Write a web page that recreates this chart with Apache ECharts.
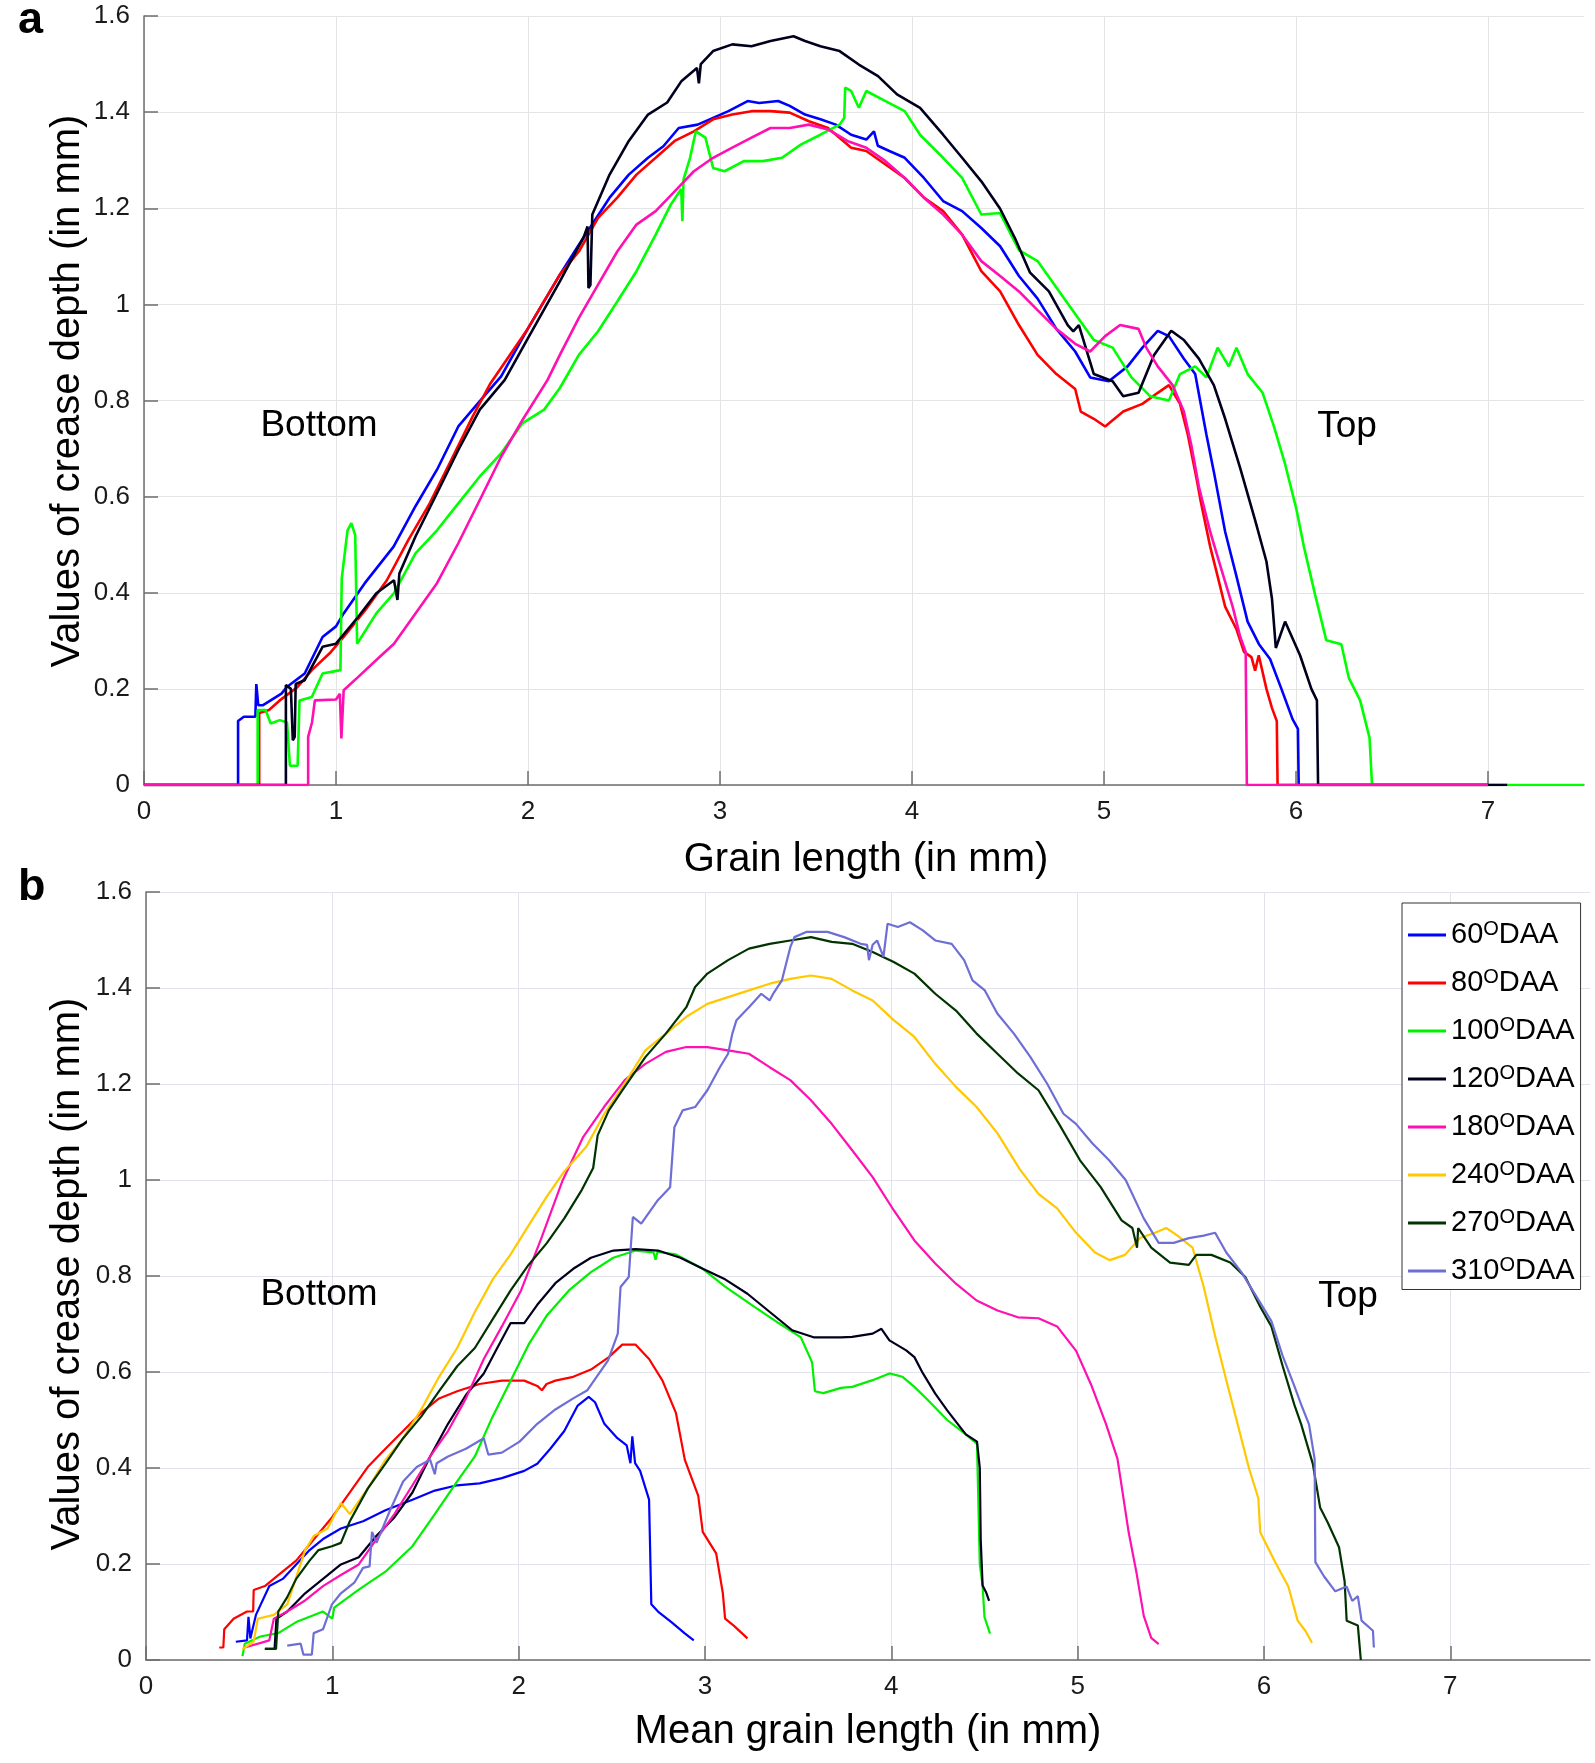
<!DOCTYPE html>
<html><head><meta charset="utf-8">
<script src="https://cdn.jsdelivr.net/npm/echarts@6.0.0/dist/echarts.min.js"></script>
<style>html,body{margin:0;padding:0;background:#fff}#c{width:1595px;height:1763px}</style>
</head><body><div id="c"></div>
<script>
// ---------- tick values ----------
const xTicks = [0, 1, 2, 3, 4, 5, 6, 7];
const yTicksMax = 1.6;

// ---------- panel a : five grains (x = grain length mm, y = crease depth mm) ----------
const aBlue = [[0,0],[0.49,0],[0.49,0.133],[0.52,0.142],[0.58,0.142],[0.585,0.21],[0.595,0.166],[0.62,0.166],[0.716,0.19],[0.744,0.204],[0.837,0.232],[0.93,0.308],[1.0,0.33],[1.04,0.357],[1.15,0.42],[1.30,0.496],[1.414,0.58],[1.526,0.656],[1.637,0.746],[1.73,0.79],[1.86,0.85],[2.0,0.95],[2.166,1.062],[2.265,1.124],[2.345,1.173],[2.425,1.222],[2.525,1.27],[2.625,1.305],[2.705,1.329],[2.785,1.367],[2.884,1.374],[2.964,1.388],[3.044,1.402],[3.144,1.423],[3.204,1.419],[3.303,1.423],[3.363,1.413],[3.443,1.395],[3.523,1.385],[3.603,1.374],[3.683,1.353],[3.762,1.343],[3.802,1.36],[3.822,1.33],[3.882,1.319],[3.962,1.305],[4.062,1.263],[4.162,1.215],[4.261,1.194],[4.361,1.159],[4.459,1.121],[4.557,1.059],[4.654,1.012],[4.752,0.949],[4.85,0.902],[4.928,0.848],[5.025,0.84],[5.123,0.871],[5.2,0.91],[5.28,0.945],[5.338,0.934],[5.416,0.887],[5.475,0.855],[5.533,0.73],[5.572,0.652],[5.631,0.527],[5.69,0.434],[5.748,0.34],[5.807,0.293],[5.865,0.262],[5.924,0.2],[5.982,0.137],[6.01,0.117],[6.014,0],[7.0,0]];
const aRed = [[0,0],[0.6,0],[0.6,0.15],[0.651,0.156],[0.707,0.176],[0.8,0.204],[0.874,0.239],[0.967,0.274],[1.04,0.308],[1.153,0.364],[1.265,0.426],[1.377,0.51],[1.488,0.586],[1.6,0.676],[1.712,0.767],[1.805,0.836],[2.0,0.95],[2.166,1.062],[2.265,1.11],[2.365,1.18],[2.465,1.222],[2.565,1.27],[2.665,1.305],[2.764,1.34],[2.864,1.36],[2.964,1.385],[3.064,1.395],[3.164,1.402],[3.263,1.402],[3.363,1.399],[3.463,1.381],[3.563,1.367],[3.683,1.326],[3.762,1.319],[3.862,1.291],[3.962,1.263],[4.062,1.222],[4.162,1.194],[4.261,1.145],[4.361,1.069],[4.459,1.027],[4.557,0.957],[4.654,0.895],[4.752,0.855],[4.85,0.824],[4.879,0.777],[4.947,0.762],[5.006,0.746],[5.1,0.777],[5.2,0.793],[5.28,0.816],[5.338,0.832],[5.396,0.793],[5.436,0.73],[5.475,0.652],[5.504,0.59],[5.553,0.496],[5.592,0.434],[5.631,0.371],[5.69,0.324],[5.729,0.277],[5.768,0.266],[5.787,0.238],[5.806,0.27],[5.846,0.2],[5.875,0.16],[5.9,0.133],[5.904,0],[7.0,0]];
const aGreen = [[0,0],[0.592,0],[0.592,0.156],[0.633,0.156],[0.66,0.128],[0.707,0.135],[0.745,0.13],[0.76,0.04],[0.8,0.04],[0.81,0.176],[0.874,0.183],[0.93,0.232],[1.023,0.239],[1.03,0.43],[1.06,0.53],[1.08,0.545],[1.1,0.52],[1.11,0.294],[1.21,0.357],[1.302,0.399],[1.414,0.482],[1.526,0.53],[1.637,0.586],[1.749,0.642],[1.86,0.69],[1.972,0.753],[2.084,0.781],[2.166,0.826],[2.265,0.895],[2.365,0.944],[2.465,1.006],[2.565,1.069],[2.665,1.145],[2.744,1.208],[2.798,1.24],[2.804,1.173],[2.81,1.26],[2.844,1.305],[2.874,1.36],[2.924,1.347],[2.964,1.284],[3.024,1.277],[3.124,1.298],[3.224,1.298],[3.323,1.305],[3.423,1.333],[3.523,1.353],[3.623,1.374],[3.647,1.388],[3.652,1.451],[3.683,1.444],[3.723,1.409],[3.762,1.444],[3.862,1.423],[3.962,1.402],[4.042,1.353],[4.162,1.305],[4.261,1.263],[4.361,1.187],[4.459,1.19],[4.557,1.113],[4.654,1.09],[4.752,1.035],[4.85,0.98],[4.947,0.926],[5.045,0.91],[5.143,0.848],[5.24,0.809],[5.338,0.8],[5.396,0.855],[5.475,0.871],[5.533,0.848],[5.592,0.91],[5.65,0.871],[5.69,0.91],[5.748,0.855],[5.826,0.816],[5.885,0.746],[5.943,0.668],[6.002,0.574],[6.041,0.496],[6.1,0.395],[6.158,0.301],[6.236,0.293],[6.275,0.223],[6.334,0.176],[6.383,0.098],[6.396,0],[7.5,0]];
const aBlack = [[0,0],[0.739,0],[0.739,0.208],[0.765,0.2],[0.775,0.093],[0.785,0.1],[0.79,0.21],[0.837,0.218],[0.93,0.2875],[1.0,0.294],[1.116,0.35],[1.21,0.399],[1.302,0.426],[1.32,0.385],[1.33,0.44],[1.414,0.517],[1.526,0.607],[1.637,0.697],[1.749,0.781],[1.879,0.843],[2.0,0.93],[2.166,1.048],[2.29,1.14],[2.31,1.162],[2.315,1.034],[2.325,1.04],[2.335,1.187],[2.425,1.27],[2.525,1.34],[2.625,1.395],[2.725,1.42],[2.80,1.465],[2.88,1.492],[2.89,1.46],[2.9,1.5],[2.964,1.527],[3.064,1.541],[3.164,1.537],[3.263,1.548],[3.383,1.558],[3.443,1.548],[3.523,1.537],[3.623,1.527],[3.723,1.499],[3.823,1.475],[3.922,1.437],[4.042,1.409],[4.162,1.353],[4.261,1.305],[4.361,1.256],[4.459,1.199],[4.537,1.137],[4.615,1.066],[4.713,1.027],[4.811,0.957],[4.84,0.944],[4.869,0.957],[4.947,0.855],[5.045,0.84],[5.10,0.809],[5.18,0.816],[5.26,0.894],[5.35,0.945],[5.416,0.926],[5.494,0.887],[5.572,0.832],[5.631,0.762],[5.709,0.66],[5.787,0.551],[5.846,0.465],[5.875,0.387],[5.895,0.285],[5.943,0.34],[6.021,0.27],[6.08,0.2],[6.109,0.176],[6.115,0],[7.1,0]];
const aMagenta = [[0,0],[0.855,0],[0.855,0.1],[0.875,0.13],[0.89,0.176],[1.0,0.178],[1.02,0.19],[1.028,0.097],[1.04,0.197],[1.116,0.225],[1.21,0.26],[1.302,0.294],[1.414,0.357],[1.526,0.42],[1.637,0.503],[1.749,0.593],[1.86,0.683],[1.972,0.76],[2.102,0.843],[2.166,0.895],[2.265,0.972],[2.365,1.041],[2.465,1.11],[2.565,1.166],[2.665,1.194],[2.764,1.235],[2.864,1.277],[2.964,1.305],[3.064,1.326],[3.164,1.347],[3.263,1.367],[3.363,1.367],[3.463,1.374],[3.563,1.364],[3.663,1.34],[3.762,1.326],[3.862,1.298],[3.962,1.263],[4.062,1.222],[4.162,1.187],[4.261,1.145],[4.361,1.09],[4.459,1.059],[4.557,1.027],[4.654,0.988],[4.752,0.949],[4.85,0.918],[4.928,0.902],[5.006,0.934],[5.084,0.957],[5.18,0.949],[5.22,0.91],[5.28,0.871],[5.357,0.832],[5.416,0.777],[5.455,0.707],[5.494,0.621],[5.553,0.527],[5.611,0.449],[5.67,0.371],[5.709,0.309],[5.738,0.277],[5.744,0],[7.0,0]];

// ---------- panel b : mean grain profiles by age ----------
const bLabels = ['60', '80', '100', '120', '180', '240', '270', '310'];
const b60 = [[0.482,0.038],[0.542,0.041],[0.55,0.09],[0.56,0.045],[0.59,0.094],[0.662,0.154],[0.734,0.169],[0.806,0.199],[0.878,0.229],[0.95,0.252],[1.046,0.274],[1.165,0.289],[1.285,0.312],[1.43,0.334],[1.55,0.353],[1.67,0.364],[1.79,0.368],[1.91,0.379],[2.03,0.394],[2.1,0.409],[2.17,0.44],[2.245,0.477],[2.317,0.53],[2.376,0.548],[2.41,0.537],[2.46,0.492],[2.53,0.462],[2.58,0.447],[2.6,0.41],[2.61,0.466],[2.625,0.41],[2.652,0.394],[2.7,0.334],[2.712,0.116],[2.748,0.101],[2.82,0.079],[2.89,0.056],[2.94,0.041]];
const b80 = [[0.393,0.026],[0.415,0.026],[0.42,0.064],[0.47,0.086],[0.542,0.101],[0.575,0.101],[0.578,0.146],[0.638,0.154],[0.71,0.177],[0.806,0.207],[0.902,0.252],[0.998,0.297],[1.094,0.349],[1.19,0.402],[1.285,0.44],[1.38,0.477],[1.477,0.515],[1.573,0.545],[1.67,0.56],[1.79,0.575],[1.91,0.582],[2.03,0.582],[2.1,0.571],[2.125,0.562],[2.15,0.575],[2.197,0.582],[2.293,0.59],[2.388,0.605],[2.484,0.631],[2.556,0.657],[2.628,0.657],[2.7,0.627],[2.772,0.582],[2.844,0.515],[2.892,0.417],[2.964,0.342],[2.988,0.267],[3.06,0.222],[3.096,0.139],[3.108,0.086],[3.156,0.071],[3.228,0.045]];
const b100 = [[0.518,0.008],[0.53,0.034],[0.614,0.049],[0.71,0.056],[0.806,0.079],[0.95,0.101],[1.0,0.086],[1.01,0.109],[1.14,0.146],[1.285,0.184],[1.43,0.237],[1.55,0.304],[1.67,0.372],[1.765,0.424],[1.86,0.507],[1.957,0.582],[2.053,0.657],[2.15,0.717],[2.27,0.77],[2.388,0.808],[2.508,0.838],[2.628,0.853],[2.724,0.849],[2.735,0.834],[2.745,0.85],[2.844,0.845],[2.988,0.815],[3.108,0.778],[3.25,0.74],[3.395,0.702],[3.515,0.672],[3.575,0.62],[3.59,0.56],[3.635,0.556],[3.73,0.567],[3.79,0.569],[3.9,0.583],[3.99,0.597],[4.06,0.59],[4.124,0.569],[4.2,0.54],[4.3,0.5],[4.4,0.47],[4.46,0.45],[4.475,0.2],[4.49,0.155],[4.5,0.09],[4.53,0.055]];
const b120 = [[0.638,0.023],[0.69,0.023],[0.7,0.086],[0.758,0.101],[0.854,0.139],[0.95,0.169],[1.046,0.199],[1.142,0.214],[1.237,0.259],[1.333,0.297],[1.43,0.349],[1.525,0.424],[1.621,0.492],[1.717,0.552],[1.813,0.597],[1.885,0.65],[1.957,0.702],[2.03,0.702],[2.1,0.74],[2.197,0.785],[2.293,0.815],[2.388,0.838],[2.508,0.853],[2.628,0.856],[2.748,0.853],[2.868,0.838],[2.988,0.815],[3.108,0.793],[3.228,0.763],[3.348,0.725],[3.468,0.687],[3.587,0.672],[3.73,0.672],[3.79,0.673],[3.9,0.68],[3.947,0.69],[3.99,0.666],[4.08,0.645],[4.124,0.631],[4.17,0.597],[4.236,0.555],[4.3,0.52],[4.4,0.47],[4.46,0.455],[4.475,0.4],[4.48,0.25],[4.49,0.155],[4.51,0.14],[4.525,0.123]];
const b180 = [[0.53,0.026],[0.662,0.041],[0.686,0.086],[0.758,0.101],[0.854,0.124],[0.95,0.154],[1.046,0.177],[1.142,0.199],[1.237,0.252],[1.333,0.304],[1.43,0.364],[1.525,0.424],[1.621,0.477],[1.717,0.545],[1.813,0.627],[1.91,0.695],[2.013,0.77],[2.124,0.881],[2.236,0.999],[2.347,1.09],[2.458,1.152],[2.569,1.208],[2.68,1.242],[2.79,1.267],[2.9,1.277],[3.013,1.277],[3.124,1.27],[3.236,1.263],[3.347,1.235],[3.458,1.208],[3.569,1.166],[3.68,1.117],[3.79,1.062],[3.9,1.006],[4.013,0.937],[4.124,0.874],[4.236,0.826],[4.347,0.784],[4.458,0.749],[4.57,0.728],[4.68,0.714],[4.79,0.712],[4.89,0.695],[4.992,0.644],[5.073,0.573],[5.153,0.491],[5.214,0.419],[5.274,0.266],[5.315,0.184],[5.355,0.092],[5.395,0.046],[5.435,0.033]];
const b240 = [[0.518,0.023],[0.578,0.038],[0.6,0.086],[0.686,0.094],[0.758,0.116],[0.794,0.158],[0.854,0.229],[0.902,0.259],[0.974,0.274],[1.046,0.327],[1.094,0.304],[1.19,0.357],[1.285,0.417],[1.38,0.462],[1.477,0.522],[1.573,0.59],[1.67,0.65],[1.765,0.725],[1.861,0.793],[1.957,0.845],[2.053,0.905],[2.15,0.965],[2.245,1.018],[2.364,1.07],[2.46,1.138],[2.569,1.201],[2.68,1.27],[2.79,1.305],[2.9,1.34],[3.013,1.367],[3.124,1.381],[3.236,1.395],[3.347,1.409],[3.458,1.419],[3.569,1.426],[3.68,1.419],[3.79,1.395],[3.9,1.374],[4.013,1.333],[4.124,1.298],[4.236,1.242],[4.347,1.194],[4.458,1.152],[4.57,1.097],[4.69,1.022],[4.79,0.971],[4.89,0.941],[4.992,0.89],[5.093,0.849],[5.173,0.833],[5.254,0.844],[5.335,0.879],[5.415,0.89],[5.476,0.9],[5.536,0.884],[5.617,0.859],[5.677,0.777],[5.738,0.675],[5.798,0.583],[5.859,0.491],[5.92,0.399],[5.97,0.337],[5.98,0.266],[6.06,0.204],[6.131,0.153],[6.181,0.082],[6.222,0.061],[6.258,0.036]];
const b270 = [[0.638,0.023],[0.698,0.023],[0.71,0.101],[0.758,0.131],[0.806,0.169],[0.878,0.207],[0.926,0.229],[0.998,0.237],[1.046,0.244],[1.094,0.289],[1.19,0.357],[1.285,0.409],[1.38,0.462],[1.477,0.507],[1.573,0.56],[1.67,0.612],[1.765,0.65],[1.861,0.71],[1.957,0.77],[2.053,0.823],[2.15,0.868],[2.245,0.92],[2.34,0.98],[2.4,1.025],[2.424,1.093],[2.484,1.145],[2.569,1.194],[2.68,1.256],[2.79,1.305],[2.9,1.36],[2.947,1.402],[3.013,1.43],[3.124,1.458],[3.236,1.482],[3.347,1.492],[3.458,1.499],[3.569,1.506],[3.68,1.496],[3.79,1.492],[3.9,1.475],[4.013,1.454],[4.124,1.43],[4.236,1.388],[4.347,1.353],[4.458,1.305],[4.57,1.263],[4.68,1.222],[4.79,1.187],[4.9,1.117],[5.013,1.041],[5.124,0.985],[5.236,0.916],[5.294,0.9],[5.319,0.859],[5.325,0.9],[5.395,0.859],[5.496,0.828],[5.597,0.823],[5.637,0.844],[5.718,0.844],[5.819,0.828],[5.9,0.798],[5.98,0.736],[6.04,0.695],[6.1,0.613],[6.163,0.532],[6.2,0.491],[6.262,0.409],[6.302,0.317],[6.343,0.286],[6.403,0.235],[6.433,0.164],[6.444,0.082],[6.504,0.072],[6.52,0]];
const b310 = [[0.758,0.03],[0.83,0.034],[0.845,0.011],[0.89,0.011],[0.9,0.056],[0.95,0.064],[0.998,0.116],[1.046,0.139],[1.118,0.161],[1.165,0.192],[1.2,0.195],[1.213,0.267],[1.237,0.244],[1.31,0.312],[1.38,0.372],[1.453,0.402],[1.525,0.417],[1.55,0.387],[1.56,0.41],[1.621,0.424],[1.717,0.44],[1.813,0.462],[1.837,0.428],[1.91,0.432],[2.005,0.455],[2.1,0.492],[2.197,0.522],[2.293,0.545],[2.369,0.562],[2.48,0.624],[2.532,0.68],[2.547,0.777],[2.591,0.798],[2.6,0.85],[2.613,0.923],[2.658,0.909],[2.747,0.958],[2.813,0.985],[2.836,1.11],[2.88,1.145],[2.947,1.152],[3.013,1.187],[3.08,1.235],[3.124,1.263],[3.147,1.305],[3.169,1.333],[3.236,1.36],[3.302,1.388],[3.347,1.374],[3.369,1.39],[3.413,1.416],[3.458,1.485],[3.48,1.506],[3.547,1.517],[3.658,1.517],[3.747,1.506],[3.836,1.492],[3.87,1.49],[3.88,1.458],[3.9,1.49],[3.924,1.499],[3.958,1.465],[3.98,1.534],[4.035,1.527],[4.1,1.537],[4.169,1.52],[4.236,1.499],[4.324,1.492],[4.391,1.458],[4.436,1.416],[4.502,1.395],[4.569,1.347],[4.658,1.305],[4.747,1.256],[4.836,1.201],[4.924,1.138],[4.991,1.117],[5.08,1.076],[5.169,1.041],[5.258,1.0],[5.355,0.92],[5.435,0.869],[5.516,0.869],[5.597,0.879],[5.677,0.884],[5.738,0.89],[5.798,0.849],[5.879,0.808],[5.96,0.757],[6.04,0.706],[6.1,0.634],[6.161,0.573],[6.2,0.532],[6.242,0.491],[6.272,0.419],[6.276,0.204],[6.323,0.174],[6.383,0.143],[6.444,0.153],[6.474,0.123],[6.504,0.133],[6.524,0.082],[6.585,0.061],[6.59,0.026]];

// ---------- styling ----------
const FONT = '"Liberation Sans", Arial, Helvetica, sans-serif';
const aSeries = [
  {name: 'a1', data: aBlue, color: '#0000ff'},
  {name: 'a2', data: aRed, color: '#ff0000'},
  {name: 'a3', data: aGreen, color: '#00ff00'},
  {name: 'a4', data: aBlack, color: '#00001e'},
  {name: 'a5', data: aMagenta, color: '#ff10b0'}
];
const bData = [b60, b80, b100, b120, b180, b240, b270, b310];
const bColors = ['#0000ff', '#ff0000', '#00f000', '#00001e', '#ff10b0', '#ffc800', '#003300', '#6e6ed6'];

function xAxisOpt(gi, max) {
  return {
    type: 'value', gridIndex: gi, min: 0, max: max,
    axisLine: {show: true, onZero: true, lineStyle: {color: '#6e6e6e', width: 1.5}},
    axisTick: {show: true, inside: true, length: 14, customValues: xTicks, lineStyle: {color: '#6e6e6e', width: 1.5}},
    axisLabel: {customValues: xTicks, margin: 14, fontSize: 26, fontFamily: FONT, color: '#1a1a1a'},
    splitLine: {show: true, lineStyle: {color: gi === 0 ? '#e4e4e4' : '#e2e2ec', width: 1}}
  };
}
function yAxisOpt(gi) {
  return {
    type: 'value', gridIndex: gi, min: 0, max: yTicksMax, interval: 0.2,
    axisLine: {show: true, lineStyle: {color: '#6e6e6e', width: 1.5}},
    axisTick: {show: true, inside: true, length: 14, lineStyle: {color: '#6e6e6e', width: 1.5}},
    axisLabel: {margin: 14, fontSize: 26, fontFamily: FONT, color: '#1a1a1a',
      formatter: v => String(Math.round(v * 10) / 10)},
    splitLine: {show: true, lineStyle: {color: gi === 0 ? '#e4e4e4' : '#e2e2ec', width: 1}}
  };
}

const series = [];
aSeries.forEach(s => series.push({
  name: s.name, type: 'line', xAxisIndex: 0, yAxisIndex: 0, data: s.data,
  showSymbol: false, symbol: 'none', color: s.color,
  lineStyle: {color: s.color, width: 2.6}, animation: false
}));
bLabels.forEach((lab, i) => series.push({
  name: lab + ' DAA', type: 'line', xAxisIndex: 1, yAxisIndex: 1, data: bData[i],
  showSymbol: false, symbol: 'none', color: bColors[i],
  lineStyle: {color: bColors[i], width: 2.2}, animation: false
}));

function txt(x, y, text, size, opts) {
  opts = opts || {};
  return {
    type: 'text', x: x, y: y, rotation: opts.rot || 0, z: 100,
    style: {
      text: text, fontSize: size, fontFamily: FONT, fontWeight: opts.bold ? 'bold' : 'normal',
      fill: '#000', align: opts.align || 'center', verticalAlign: 'middle',
      textAlign: opts.align || 'center', textVerticalAlign: 'middle'
    }
  };
}

const chart = echarts.init(document.getElementById('c'), null, {renderer: 'canvas'});
chart.setOption({
  animation: false,
  backgroundColor: '#ffffff',
  grid: [
    {left: 144, top: 16, width: 1440, height: 769},
    {left: 146, top: 892, width: 1444, height: 768}
  ],
  xAxis: [xAxisOpt(0, 7.5), xAxisOpt(1, 7.75)],
  yAxis: [yAxisOpt(0), yAxisOpt(1)],
  legend: {
    data: bLabels.map(l => l + ' DAA'), orient: 'vertical', left: 1402, top: 903,
    itemWidth: 38, itemHeight: 3, itemGap: 17.5, icon: 'rect', selectedMode: false,
    padding: [16, 6, 4, 6], borderColor: '#333', borderWidth: 1, backgroundColor: '#fff',
    formatter: name => '{n|' + name.split(' ')[0] + '}{s|O}{n|DAA}',
    textStyle: {
      fontFamily: FONT, color: '#000',
      rich: {
        n: {fontSize: 29, fontFamily: FONT, color: '#000', lineHeight: 32},
        s: {fontSize: 20, fontFamily: FONT, color: '#000', lineHeight: 14, verticalAlign: 'top'}
      }
    }
  },
  graphic: [
    txt(18, 21, 'a', 45, {bold: true, align: 'left'}),
    txt(18, 888, 'b', 45, {bold: true, align: 'left'}),
    txt(68, 391, 'Values of crease depth (in mm)', 40, {rot: Math.PI / 2}),
    txt(68, 1274, 'Values of crease depth (in mm)', 40, {rot: Math.PI / 2}),
    txt(866, 860, 'Grain length (in mm)', 40),
    txt(868, 1732, 'Mean grain length (in mm)', 40),
    txt(319, 426, 'Bottom', 37),
    txt(1347, 427, 'Top', 37),
    txt(319, 1295, 'Bottom', 37),
    txt(1348, 1297, 'Top', 37)
  ],
  series: series
});
</script>
</body></html>
